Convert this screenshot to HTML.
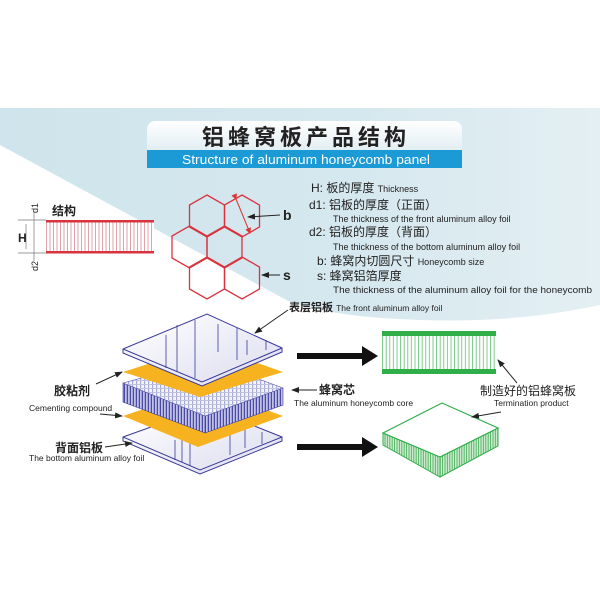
<!DOCTYPE html>
<html><head><meta charset="utf-8"><style>
html,body{margin:0;padding:0;background:#fff;}
svg{display:block;}
text{font-family:"Liberation Sans","Noto Sans CJK SC",sans-serif;}
</style></head><body>
<svg width="600" height="600" viewBox="0 0 600 600" xmlns="http://www.w3.org/2000/svg">
<defs>
<linearGradient id="bg" x1="0" y1="0" x2="1" y2="0"><stop offset="0" stop-color="#cfe4ec"/><stop offset="0.6" stop-color="#d6e8ef"/><stop offset="1" stop-color="#e4eff3"/></linearGradient>
<linearGradient id="tbox" x1="0" y1="0" x2="0" y2="1"><stop offset="0" stop-color="#ffffff"/><stop offset="1" stop-color="#d8e8ee"/></linearGradient>
<linearGradient id="plate" x1="0" y1="0" x2="1" y2="1"><stop offset="0" stop-color="#ffffff"/><stop offset="1" stop-color="#dcdcef"/></linearGradient>
<pattern id="redl" width="3.5" height="10" patternUnits="userSpaceOnUse"><rect width="3.5" height="10" fill="#fff"/><line x1="1" y1="0" x2="1" y2="10" stroke="#d98a96" stroke-width="0.8"/></pattern>
<pattern id="grnl" width="3.6" height="10" patternUnits="userSpaceOnUse"><rect width="3.6" height="10" fill="#fff"/><line x1="1" y1="0" x2="1" y2="10" stroke="#5cc070" stroke-width="0.8"/></pattern>
<pattern id="grns" width="2.4" height="10" patternUnits="userSpaceOnUse"><rect width="2.4" height="10" fill="#cdeccf"/><line x1="1" y1="0" x2="1" y2="10" stroke="#3caa50" stroke-width="0.8"/></pattern>
<pattern id="core" width="3" height="10" patternUnits="userSpaceOnUse"><rect width="3" height="10" fill="#dfe0f5"/><rect x="0.6" width="1.6" height="10" fill="#4a4aa8"/></pattern>
<pattern id="coretop" width="4" height="4" patternUnits="userSpaceOnUse"><rect width="4" height="4" fill="#f4f4fb"/><rect width="1.2" height="4" fill="#a8aad6"/><rect width="4" height="1" fill="#c0c2e2"/></pattern>
<marker id="ah" markerWidth="8" markerHeight="8" refX="7" refY="4" orient="auto" markerUnits="userSpaceOnUse"><path d="M0,1 L8,4 L0,7 Z" fill="#222"/></marker>
<marker id="rh" markerWidth="6" markerHeight="6" refX="5" refY="3" orient="auto" markerUnits="userSpaceOnUse"><path d="M0,0 L6,3 L0,6 Z" fill="#d33"/></marker>
</defs>
<!-- background -->
<path d="M0,108 L600,108 L600,305 C540,318 480,322 420,320 C360,318 320,312 290,302 L0,145 Z" fill="url(#bg)"/>
<!-- title -->
<rect x="147" y="121" width="315" height="40" rx="8" fill="url(#tbox)"/>
<rect x="147" y="150" width="315" height="18" fill="#1b9ad6"/>
<text x="306" y="145" text-anchor="middle" font-size="22" font-weight="bold" fill="#222" letter-spacing="4">铝蜂窝板产品结构</text>
<text x="306" y="164" text-anchor="middle" font-size="13" fill="#fff" textLength="248" lengthAdjust="spacingAndGlyphs">Structure of aluminum honeycomb panel</text>
<!-- structure bar -->
<rect x="46" y="222" width="108" height="30" fill="url(#redl)"/>
<rect x="46" y="220" width="108" height="2.5" fill="#d8343f"/>
<rect x="46" y="251" width="108" height="2.5" fill="#d8343f"/>
<text x="52" y="215" font-size="12" font-weight="bold" fill="#222">结构</text>
<g stroke="#777" stroke-width="0.7">
<line x1="18" y1="220" x2="46" y2="220"/><line x1="18" y1="253" x2="46" y2="253"/>
<line x1="26" y1="224" x2="26" y2="249"/><line x1="34" y1="212" x2="34" y2="261"/>
</g>
<text x="18" y="242" font-size="12" font-weight="bold" fill="#222">H</text>
<text transform="translate(38,213) rotate(-90)" font-size="9" fill="#222">d1</text>
<text transform="translate(38,271) rotate(-90)" font-size="9" fill="#222">d2</text>
<!-- hexagons -->
<g fill="none" stroke="#d8343f" stroke-width="1.3">
<path id="hx" d="M0,-21 L17.5,-11 L17.5,11 L0,21 L-17.5,11 L-17.5,-11 Z" transform="translate(207,216)"/>
<use href="#hx" x="35" y="0"/>
<use href="#hx" x="-17.5" y="31"/>
<use href="#hx" x="17.5" y="31"/>
<use href="#hx" x="0" y="62"/>
<use href="#hx" x="35" y="62"/>
</g>
<line x1="236" y1="199" x2="250" y2="233" stroke="#d33" stroke-width="1" marker-end="url(#rh)" marker-start="url(#rh)"/>
<line x1="280" y1="215" x2="248" y2="217" stroke="#222" stroke-width="1" marker-end="url(#ah)"/>
<text x="283" y="220" font-size="14" font-weight="bold" fill="#222">b</text>
<line x1="280" y1="275" x2="262" y2="275" stroke="#222" stroke-width="1" marker-end="url(#ah)"/>
<text x="283" y="280" font-size="14" font-weight="bold" fill="#222">s</text>
<!-- legend -->
<g fill="#222">
<text x="311" y="192" font-size="12">H: 板的厚度 <tspan font-size="9">Thickness</tspan></text>
<text x="309" y="209" font-size="12">d1: 铝板的厚度（正面）</text>
<text x="333" y="222" font-size="9">The thickness of the front aluminum alloy foil</text>
<text x="309" y="236" font-size="12">d2: 铝板的厚度（背面）</text>
<text x="333" y="250" font-size="9">The thickness of the bottom aluminum alloy foil</text>
<text x="317" y="265" font-size="12">b: 蜂窝内切圆尺寸 <tspan font-size="9">Honeycomb size</tspan></text>
<text x="317" y="280" font-size="12">s: 蜂窝铝箔厚度</text>
<text x="333" y="293" font-size="9" textLength="259" lengthAdjust="spacingAndGlyphs">The thickness of the aluminum alloy foil for the honeycomb</text>
</g>
<!-- exploded stack -->
<!-- bottom plate -->
<path d="M123,437 L207,407 L282,437 L282,441 L200,474 L123,441 Z" fill="url(#plate)" stroke="#3a3a9a" stroke-width="1"/>
<path d="M123,437 L200,470 L282,437" fill="none" stroke="#3a3a9a" stroke-width="1"/>
<g stroke="#3a3a9a" stroke-width="0.8"><line x1="175" y1="440" x2="175" y2="460"/><line x1="182" y1="430" x2="182" y2="462"/><line x1="190" y1="428" x2="190" y2="466"/><line x1="230" y1="432" x2="230" y2="455"/><line x1="245" y1="430" x2="245" y2="448"/><line x1="262" y1="432" x2="262" y2="444"/></g>
<!-- orange 2 -->
<path d="M123,416 L207,388 L283,416 L198,447 Z" fill="#f6b21f"/>
<!-- core -->
<path d="M123,383 L205,416 L205,433 L123,402 Z" fill="url(#core)" stroke="#3a3a9a" stroke-width="0.6"/>
<path d="M205,416 L283,388 L283,405 L205,433 Z" fill="url(#core)" stroke="#3a3a9a" stroke-width="0.6"/>
<path d="M123,383 L207,360 L283,388 L205,416 Z" fill="url(#coretop)" stroke="#5a5ab0" stroke-width="0.6"/>
<!-- orange 1 -->
<path d="M123,372 L207,345 L283,372 L200,397 Z" fill="#f6b21f"/>
<!-- top plate -->
<path d="M123,349 L207,314 L282,348 L282,352 L202,386 L123,353 Z" fill="url(#plate)" stroke="#3a3a9a" stroke-width="1"/>
<path d="M123,349 L202,382 L282,348" fill="none" stroke="#3a3a9a" stroke-width="1"/>
<g stroke="#3a3a9a" stroke-width="0.8"><line x1="166" y1="335" x2="166" y2="368"/><line x1="177" y1="325" x2="177" y2="372"/><line x1="195" y1="320" x2="195" y2="378"/><line x1="218" y1="324" x2="218" y2="352"/><line x1="237" y1="328" x2="237" y2="360"/><line x1="247" y1="340" x2="247" y2="355"/><line x1="266" y1="340" x2="266" y2="350"/></g>
<!-- stack labels -->
<line x1="288" y1="310" x2="255" y2="333" stroke="#222" stroke-width="1" marker-end="url(#ah)"/>
<text x="289" y="311" font-size="11" font-weight="bold" fill="#222">表层铝板 <tspan font-size="8.5" font-weight="normal">The front aluminum alloy foil</tspan></text>
<text x="54" y="395" font-size="12" font-weight="bold" fill="#222">胶粘剂</text>
<text x="29" y="411" font-size="8.5" fill="#222">Cementing compound</text>
<line x1="96" y1="384" x2="122" y2="372" stroke="#222" stroke-width="1" marker-end="url(#ah)"/>
<line x1="100" y1="414" x2="122" y2="416" stroke="#222" stroke-width="1" marker-end="url(#ah)"/>
<line x1="317" y1="390" x2="292" y2="390" stroke="#222" stroke-width="1" marker-end="url(#ah)"/>
<text x="319" y="394" font-size="12" font-weight="bold" fill="#222">蜂窝芯</text>
<text x="294" y="406" font-size="8.5" fill="#222">The aluminum honeycomb core</text>
<text x="55" y="452" font-size="12" font-weight="bold" fill="#222">背面铝板</text>
<line x1="105" y1="447" x2="132" y2="443" stroke="#222" stroke-width="1" marker-end="url(#ah)"/>
<text x="29" y="461" font-size="8.5" fill="#222">The bottom aluminum alloy foil</text>
<!-- big arrows -->
<path d="M297,353 L362,353 L362,346 L378,356 L362,366 L362,359 L297,359 Z" fill="#111"/>
<path d="M297,444 L362,444 L362,437 L378,447 L362,457 L362,450 L297,450 Z" fill="#111"/>
<!-- green side panel -->
<rect x="382" y="336" width="114" height="33" fill="url(#grnl)"/>
<rect x="382" y="331" width="114" height="5" fill="#2fae4a"/>
<rect x="382" y="369" width="114" height="5" fill="#2fae4a"/>
<line x1="517" y1="383" x2="498" y2="360" stroke="#222" stroke-width="1" marker-end="url(#ah)"/>
<text x="480" y="395" font-size="12" fill="#222">制造好的铝蜂窝板</text>
<text x="494" y="406" font-size="8.5" fill="#222">Termination product</text>
<!-- green iso -->
<path d="M383,433 L440,457 L440,477 L383,445 Z" fill="url(#grns)" stroke="#2fae4a" stroke-width="1"/>
<path d="M440,457 L498,428 L498,446 L440,477 Z" fill="url(#grns)" stroke="#2fae4a" stroke-width="1"/>
<path d="M383,433 L442,403 L498,428 L440,457 Z" fill="#fff" stroke="#2fae4a" stroke-width="1.2"/>
<line x1="501" y1="412" x2="472" y2="417" stroke="#222" stroke-width="1" marker-end="url(#ah)"/>
</svg>
</body></html>
